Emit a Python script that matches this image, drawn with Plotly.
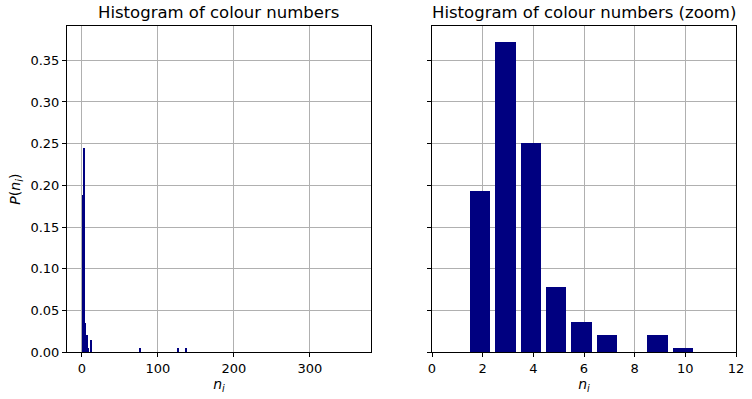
import plotly.graph_objects as go

# ---- data ----
# left panel: full histogram (density), bin centres and heights
full_centres = [0.8, 2.1, 3.3, 4.6, 5.9, 7.1, 8.6, 11.6, 77, 126, 137.5]
full_heights = [0.189, 0.245, 0.077, 0.035, 0.021, 0.021, 0.005, 0.015, 0.005, 0.005, 0.005]

# right panel: zoomed histogram
zoom_n = [2, 3, 4, 5, 6, 7, 9, 10]
zoom_p = [0.1937, 0.3717, 0.2513, 0.0785, 0.0366, 0.0209, 0.0209, 0.0052]

left_title = "Histogram of colour numbers"
right_title = "Histogram of colour numbers (zoom)"
left_xticks = [0, 100, 200, 300]
right_xticks = [0, 2, 4, 6, 8, 10, 12]
yticks = [0.0, 0.05, 0.10, 0.15, 0.20, 0.25, 0.30, 0.35]

W, H = 752, 399
NAVY = "#000080"
GRID = "#b0b0b0"
FONT = "DejaVu Sans"

xl = [67 / W, 371 / W]
xr = [432 / W, 736 / W]
yd = [1 - 352.3 / H, 1 - 26 / H]

fig = go.Figure()
fig.add_trace(go.Bar(x=full_centres, y=full_heights, width=1.3,
                     marker=dict(color=NAVY, line=dict(width=0)),
                     xaxis="x", yaxis="y", showlegend=False))
fig.add_trace(go.Bar(x=[n - 0.1 for n in zoom_n], y=zoom_p, width=0.8,
                     marker=dict(color=NAVY, line=dict(width=0)),
                     xaxis="x2", yaxis="y2", showlegend=False))

axis_common = dict(showline=True, linecolor="black", linewidth=1, mirror=True,
                   ticks="outside", ticklen=4, tickwidth=1, tickcolor="black",
                   showgrid=True, gridcolor=GRID, gridwidth=1, zeroline=False,
                   layer="above traces", automargin=False,
                   tickfont=dict(family=FONT, size=13, color="black"))

fig.update_layout(
    width=W, height=H, autosize=False,
    margin=dict(l=0, r=0, t=0, b=0, pad=0),
    paper_bgcolor="white", plot_bgcolor="white",
    bargap=0,
    font=dict(family=FONT, color="black"),
    xaxis=dict(domain=xl, anchor="y", range=[-19.7, 380.5], tickvals=left_xticks,
               title=dict(text="<i>n<sub>i</sub></i>", font=dict(family=FONT, size=14), standoff=4),
               **axis_common),
    yaxis=dict(domain=yd, anchor="x", range=[0, 0.391], tickvals=yticks, tickformat=".2f",
               title=dict(text="<i>P</i>(<i>n<sub>i</sub></i>)", font=dict(family=FONT, size=14), standoff=6),
               **axis_common),
    xaxis2=dict(domain=xr, anchor="y2", range=[0, 12], tickvals=right_xticks,
                title=dict(text="<i>n<sub>i</sub></i>", font=dict(family=FONT, size=14), standoff=4),
                **axis_common),
    yaxis2=dict(domain=yd, anchor="x2", range=[0, 0.391], tickvals=yticks,
                showticklabels=False, **axis_common),
    annotations=[
        dict(text=left_title, x=(xl[0] + xl[1]) / 2, y=yd[1], xref="paper", yref="paper",
             xanchor="center", yanchor="bottom", yshift=2, showarrow=False,
             font=dict(family=FONT, size=16.5, color="black")),
        dict(text=right_title, x=(xr[0] + xr[1]) / 2, y=yd[1], xref="paper", yref="paper",
             xanchor="center", yanchor="bottom", yshift=2, showarrow=False,
             font=dict(family=FONT, size=16.5, color="black")),
    ],
)

fig.write_html("out.html")
